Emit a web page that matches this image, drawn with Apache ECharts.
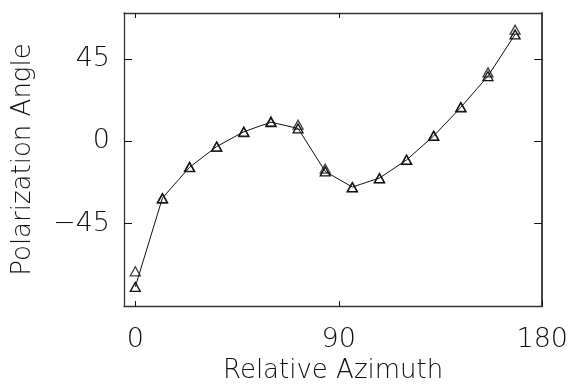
<!DOCTYPE html>
<html>
<head>
<meta charset="utf-8">
<script src="https://cdn.jsdelivr.net/npm/echarts@6/dist/echarts.min.js"></script>
<style>
  html, body { margin: 0; padding: 0; background: #fff; }
  #chart { width: 571px; height: 389px; }
</style>
</head>
<body>
<div id="chart"></div>
<script>
// Relative azimuth (degrees) of each measurement
const azimuth = [0, 12, 24, 36, 48, 60, 72, 84, 96, 108, 120, 132, 144, 156, 168];
// First pass: joined by the line
const angleA = [-79.5, -31, -14.2, -2.9, 5.2, 10.4, 7, -16.5, -25, -20.1, -10.2, 2.9, 18.5, 35.6, 58.3];
// Second pass: markers only
const angleB = [-71, -31.4, -14, -3, 5, 10.9, 9, -15, -25.2, -20.3, -10, 3.1, 18.7, 37.6, 60.9];
// Axis tick values
const xTicks = [0, 90, 180];
const yTicks = [-45, 0, 45];
const xTopTicks = [0, 90];

const FONT = "'DejaVu Sans ExtraLight', 'DejaVu Sans', sans-serif";
const INK = '#111';

function pairs(xs, ys) {
  return xs.map((x, i) => [x, ys[i]]);
}

const tri = {
  symbol: 'triangle',
  symbolSize: [10, 9],
  itemStyle: { color: 'transparent', borderColor: INK, borderWidth: 1.3 }
};

const chart = echarts.init(document.getElementById('chart'), null, { renderer: 'canvas' });

chart.setOption({
  animation: false,
  backgroundColor: '#fff',
  grid: { left: 124, right: 28, top: 13, bottom: 81 },
  xAxis: [
    {
      type: 'value', min: -5, max: 180, position: 'bottom',
      name: 'Relative Azimuth', nameLocation: 'middle', nameGap: 50,
      nameTextStyle: { fontFamily: FONT, fontSize: 26, color: INK, fontWeight: 200 },
      axisLine: { show: true, onZero: false, lineStyle: { color: '#333', width: 1.3 } },
      axisTick: { show: true, inside: true, length: 5, customValues: xTicks, lineStyle: { color: INK } },
      axisLabel: { customValues: xTicks, fontFamily: FONT, fontSize: 27, color: INK, margin: 20, fontWeight: 200 },
      splitLine: { show: false }
    },
    {
      type: 'value', min: -5, max: 180, position: 'top',
      axisLine: { show: true, onZero: false, lineStyle: { color: '#333', width: 1.3 } },
      axisTick: { show: true, inside: true, length: 5, customValues: xTopTicks, lineStyle: { color: INK } },
      axisLabel: { show: false },
      splitLine: { show: false }
    }
  ],
  yAxis: [
    {
      type: 'value', min: -90, max: 70, position: 'left',
      name: 'Polarization Angle', nameLocation: 'middle', nameGap: 88,
      nameTextStyle: { fontFamily: FONT, fontSize: 26, color: INK, fontWeight: 200 },
      axisLine: { show: true, onZero: false, lineStyle: { color: '#333', width: 1.3 } },
      axisTick: { show: true, inside: true, length: 8, customValues: yTicks, lineStyle: { color: INK } },
      axisLabel: {
        customValues: yTicks, fontFamily: FONT, fontSize: 27, color: INK, margin: 14, fontWeight: 200,
        formatter: v => (v < 0 ? '\u2212' + Math.abs(v) : String(v))
      },
      splitLine: { show: false }
    },
    {
      type: 'value', min: -90, max: 70, position: 'right',
      axisLine: { show: true, onZero: false, lineStyle: { color: '#444', width: 2 } },
      axisTick: { show: true, inside: true, length: 8, customValues: yTicks, lineStyle: { color: INK } },
      axisLabel: { show: false },
      splitLine: { show: false }
    }
  ],
  series: [
    Object.assign({
      type: 'line',
      data: pairs(azimuth, angleA),
      showAllSymbol: true,
      lineStyle: { color: INK, width: 1 },
      emphasis: { disabled: true },
      z: 3
    }, tri),
    Object.assign({
      type: 'scatter',
      data: pairs(azimuth, angleB),
      emphasis: { disabled: true },
      z: 4
    }, tri)
  ]
});
</script>
</body>
</html>
